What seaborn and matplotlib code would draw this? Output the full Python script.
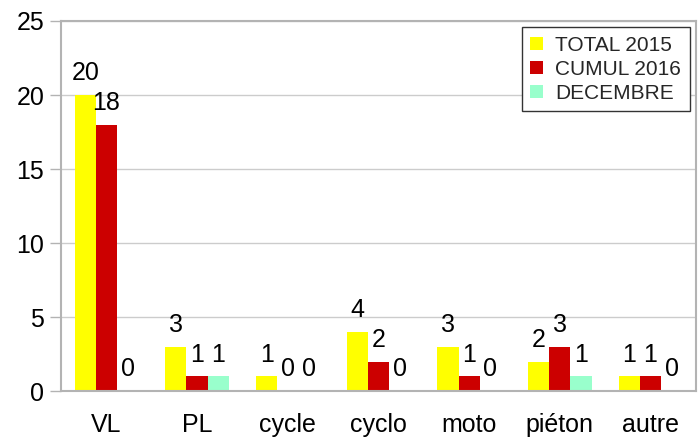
import pandas as pd
import matplotlib.pyplot as plt
import seaborn as sns
import numpy as np

categories = ['VL', 'PL', 'cycle', 'cyclo', 'moto', 'piéton', 'autre']
series = ['TOTAL 2015', 'CUMUL 2016', 'DECEMBRE']
total_2015 = [20, 3, 1, 4, 3, 2, 1]
cumul_2016 = [18, 1, 0, 2, 1, 3, 1]
decembre = [0, 1, 0, 0, 0, 1, 0]
colors = ['#FFFF00', '#CC0000', '#99FFCC']

df = pd.DataFrame({
    'categorie': categories * 3,
    'serie': [s for s in series for _ in categories],
    'valeur': total_2015 + cumul_2016 + decembre,
})

sns.set_theme(style='white')
plt.rcParams['font.family'] = ['Liberation Sans', 'DejaVu Sans']

fig, ax = plt.subplots(figsize=(6.98, 4.37), dpi=100)
fig.subplots_adjust(left=0.0874, right=0.997, bottom=0.105, top=0.952)

sns.barplot(data=df, x='categorie', y='valeur', hue='serie', order=categories,
            hue_order=series, palette=colors, width=0.7, saturation=1,
            linewidth=0, ax=ax)

for cont in ax.containers:
    ax.bar_label(cont, fmt='%d', padding=7, fontsize=18, color='black')

ax.set_xlim(-0.5, len(categories) - 0.5)
ax.set_ylim(0, 25)
ax.set_yticks(np.arange(0, 26, 5))
ax.yaxis.grid(True, color='#cccccc', linewidth=1)
ax.set_axisbelow(True)
ax.set_xlabel('')
ax.set_ylabel('')

ax.set_xticks(np.arange(-0.5, len(categories)), minor=True)
ax.tick_params(axis='x', which='major', length=0, labelsize=18, pad=16, colors='black')
ax.tick_params(axis='x', which='minor', length=7, width=1, color='#b3b3b3', direction='out')
ax.tick_params(axis='y', length=8, width=1, color='#b3b3b3', labelsize=18, pad=4,
               left=True, labelcolor='black')
for side in ['left', 'bottom', 'top', 'right']:
    ax.spines[side].set_visible(True)
    ax.spines[side].set_color('#b3b3b3')
    ax.spines[side].set_linewidth(1.5)

leg = ax.legend(loc='upper right', fontsize=15, frameon=True, fancybox=False,
                edgecolor='#333333', framealpha=1, handlelength=0.6,
                handleheight=0.6, handletextpad=0.6, borderpad=0.4,
                labelspacing=0.25, borderaxespad=0.3)
leg.get_frame().set_linewidth(1)

plt.savefig('out.png', dpi=100)
